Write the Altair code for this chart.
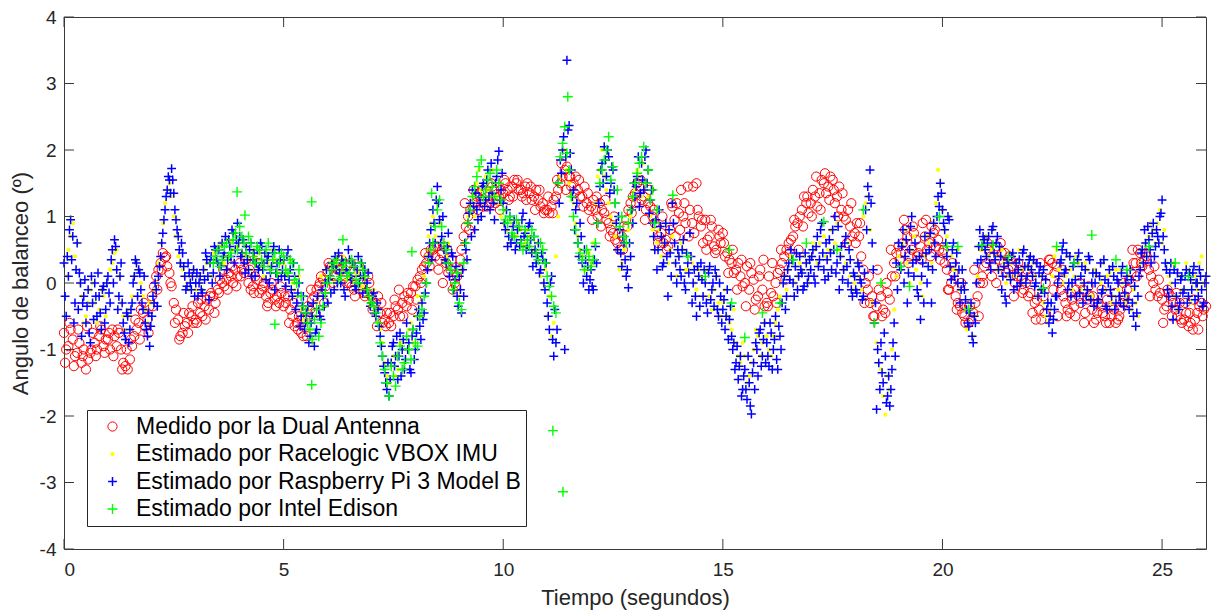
import numpy as np
import pandas as pd
import altair as alt

FONT = "Liberation Sans, Arial, Helvetica, sans-serif"
AX = "#3a3a3a"
TXT = "#262626"

SERIES = [
    "Medido por la Dual Antenna",
    "Estimado por Racelogic VBOX IMU",
    "Estimado por Raspberry Pi 3 Model B",
    "Estimado por Intel Edison",
]
COLORS = ["#FF0000", "#FFFF00", "#0000FF", "#00FF00"]
PLUS = "M-1,0L1,0M0,-1L0,1"
SHAPES = ["circle", "circle", PLUS, PLUS]
SIZES = [85, 6, 78, 100]
WIDTHS = [1.0, 1.8, 1.5, 1.4]

X_TICKS = [0, 5, 10, 15, 20, 25]
Y_TICKS = [-4, -3, -2, -1, 0, 1, 2, 3, 4]

# Dual Antenna, samples at t = 0.0, 0.1, ... 26.0
red_a = [
    -0.75, -0.95, -0.85, -1.05, -1.2, -1.3, -1.05, -0.9, -0.8, -0.95,
    -0.85, -0.7, -0.95, -1.0, -1.25, -1.15, -0.8, -0.6, -0.45, -0.55,
    -0.2, 0.1, 0.3, 0.38, 0.15, -0.3, -0.55, -0.75, -0.6, -0.5,
    -0.55, -0.45, -0.35, -0.4, -0.2, -0.1, 0.0, 0.05, 0.1, 0.2,
    0.3, 0.15, 0.0, -0.05, 0.05, -0.1, -0.2, -0.15, -0.25, -0.3,
    -0.35, -0.2, -0.5, -0.6, -0.75, -0.55, -0.4, -0.2, -0.05, 0.05,
    0.15, 0.25, 0.3, 0.2, 0.1, 0.0, -0.1, 0.05, 0.0, -0.15,
    -0.2, -0.3, -0.45, -0.55, -0.6, -0.5, -0.4, -0.3, -0.35, -0.15,
    -0.05, 0.1, 0.25, 0.4, 0.5, 0.55, 0.45, 0.3, 0.2, 0.0,
    0.2, 0.7, 1.0, 1.15, 1.3, 1.25, 1.35, 1.2, 1.4, 1.3,
    1.35, 1.4, 1.45, 1.5, 1.4, 1.45, 1.35, 1.3, 1.25, 1.2,
    1.1, 1.15, 1.3, 1.5, 1.7, 1.6, 1.5, 1.4, 1.3, 1.2,
    1.15, 1.1, 1.2, 1.05, 0.9, 0.75, 0.6, 0.7, 0.95, 1.2,
    1.35, 1.45, 1.3, 1.2, 1.0, 0.85, 0.75, 0.65, 0.8, 0.95,
    1.05, 1.0, 1.45, 0.9, 1.5, 0.85, 0.95, 0.7, 0.55, 0.8,
    0.75, 0.45, 0.3, 0.2, 0.1, 0.0, -0.1, 0.05, -0.2, -0.1,
    -0.3, -0.15, 0.0, 0.2, 0.4, 0.6, 0.7, 0.9, 1.1, 1.2,
    1.2, 1.3, 1.35, 1.5, 1.45, 1.55, 1.3, 1.1, 0.95, 0.85,
    0.75, 0.7, 0.2, -0.1, -0.2, -0.35, -0.2, -0.45, -0.25, 0.3,
    0.55, 0.6, 0.7, 0.5, 0.65, 0.55, 0.7, 0.6, 0.75, 0.65,
    0.45, 0.2, 0.0, -0.2, -0.35, -0.5, -0.6, -0.45, -0.2, 0.1,
    0.3, 0.4, 0.5, 0.35, 0.3, 0.2, 0.25, 0.1, 0.05, 0.0,
    -0.15, -0.3, -0.4, -0.2, 0.2, 0.3, 0.25, -0.1, -0.3, -0.45,
    -0.35, -0.2, -0.1, -0.25, -0.4, -0.55, -0.35, -0.5, -0.6, -0.4,
    -0.55, -0.3, -0.1, 0.15, 0.3, 0.45, 0.35, 0.2, 0.0, -0.2,
    -0.25, -0.35, -0.2, -0.4, -0.3, -0.55, -0.65, -0.7, -0.45, -0.3,
    -0.35,
]
# Dual Antenna, samples at t = 0.05, 0.15, ... 25.95
red_b = [
    -1.0, -0.7, -1.1, -0.9, -1.0, -1.15, -0.75, -1.0, -0.7, -0.85,
    -1.0, -0.8, -0.75, -1.2, -1.3, -0.95, -0.7, -0.4, -0.65, -0.35,
    -0.05, 0.2, 0.45, 0.25, -0.05, -0.4, -0.8, -0.65, -0.45, -0.6,
    -0.3, -0.5, -0.25, -0.15, -0.3, 0.05, -0.05, 0.15, 0.0, 0.1,
    0.2, 0.35, -0.1, 0.1, -0.15, 0.0, -0.3, -0.1, -0.2, -0.15,
    -0.3, -0.4, -0.65, -0.5, -0.8, -0.35, -0.25, -0.1, 0.1, -0.05,
    0.25, 0.1, 0.35, 0.05, 0.25, -0.05, 0.1, -0.1, -0.2, 0.0,
    -0.35, -0.2, -0.6, -0.45, -0.65, -0.35, -0.5, -0.2, -0.25, -0.05,
    0.05, 0.2, 0.3, 0.5, 0.4, 0.35, 0.55, 0.15, -0.1, 0.1,
    0.5, 0.85, 1.1, 1.2, 1.35, 1.15, 1.3, 1.45, 1.25, 1.4,
    1.5, 1.3, 1.55, 1.4, 1.35, 1.5, 1.25, 1.4, 1.15, 1.1,
    1.05, 1.25, 1.4, 1.6, 1.75, 1.45, 1.6, 1.3, 1.45, 1.1,
    1.25, 1.0, 1.1, 0.95, 0.8, 0.65, 0.5, 0.85, 1.1, 1.3,
    1.5, 1.25, 1.1, 1.15, 0.9, 0.7, 0.6, 0.55, 1.15, 1.2,
    1.4, 0.9, 1.1, 0.75, 1.0, 0.6, 0.65, 0.85, 0.5, 0.6,
    0.4, 0.35, 0.15, 0.3, -0.05, 0.25, 0.15, -0.25, 0.2, -0.35,
    0.1, -0.2, 0.15, 0.3, 0.5, 0.65, 0.85, 1.0, 1.3, 1.05,
    1.4, 1.15, 1.55, 1.35, 1.6, 1.2, 1.45, 1.0, 1.1, 0.7,
    0.9, 0.4, 0.0, -0.3, -0.5, -0.1, -0.4, -0.15, 0.1, 0.45,
    0.45, 0.8, 0.4, 0.75, 0.45, 0.9, 0.5, 0.85, 0.55, 0.35,
    0.3, -0.1, 0.15, -0.3, -0.45, -0.35, -0.55, -0.3, 0.0, 0.25,
    0.5, 0.25, 0.55, 0.45, 0.15, 0.35, 0.0, 0.2, -0.1, -0.2,
    -0.45, -0.25, -0.55, 0.0, 0.35, 0.15, 0.0, -0.2, -0.4, -0.25,
    -0.1, -0.3, -0.45, -0.2, -0.6, -0.3, -0.45, -0.25, -0.5, -0.6,
    -0.4, -0.2, 0.05, 0.3, 0.5, 0.25, 0.4, 0.1, -0.1, -0.15,
    -0.4, -0.15, -0.3, -0.5, -0.6, -0.45, -0.6, -0.55, -0.35, -0.4,
]
# Dual Antenna, samples at t = 0.025, 0.125, ... 25.925
red_c = [
    -1.2, -0.6, -1.25, -0.7, -1.1, -0.65, -1.0, -1.1, -0.65, -1.05,
    -0.75, -1.1, -0.7, -1.3, -1.0, -0.85, -0.55, -0.85, -0.3, -0.75,
    -0.35, -0.1, 0.2, 0.4, 0.0, -0.6, -0.85, -0.45, -0.75, -0.35,
    -0.6, -0.25, -0.55, -0.2, -0.45, -0.15, 0.2, -0.1, 0.25, -0.05,
    0.1, 0.35, 0.2, -0.15, 0.3, -0.05, -0.35, 0.0, -0.35, -0.05,
    -0.2, -0.6, -0.3, -0.7, -0.55, -0.8, -0.1, -0.45, 0.0, -0.3,
    0.3, 0.0, 0.2, 0.35, 0.0, 0.3, -0.2, 0.25, -0.15, 0.1,
    -0.4, -0.65, -0.3, -0.65, -0.45, -0.25, -0.1, -0.5, -0.15, -0.4,
    -0.25, 0.0, 0.45, 0.25, 0.55, 0.2, 0.0, 0.5, 0.35, -0.05,
    0.35, 1.2, 0.8, 1.4, 1.1, 1.4, 1.15, 1.5, 1.2, 1.1,
    1.55, 1.25, 1.3, 1.55, 1.3, 1.25, 1.45, 1.1, 1.4, 1.05,
    1.3, 1.05, 1.55, 1.8, 1.4, 1.6, 1.35, 1.55, 1.15, 1.35,
    0.95, 1.3, 0.85, 1.25, 0.7, 1.0, 0.75, 0.5, 0.85, 1.05,
    1.2, 1.55, 0.95, 1.4, 1.1, 0.6, 1.0, 0.5, 1.2, 0.7,
    0.8, 1.2, 0.7, 1.45, 1.1, 0.95, 0.5, 0.95, 0.45, 0.7,
    0.6, 0.15, 0.5, -0.1, 0.35, -0.35, 0.3, -0.4, 0.1, 0.35,
    -0.35, 0.3, -0.3, 0.5, 0.05, 0.45, 0.95, 0.5, 0.85, 1.3,
    1.0, 1.6, 1.1, 1.65, 1.25, 1.4, 1.0, 1.35, 0.6, 1.2,
    0.6, 0.9, -0.3, 0.1, -0.5, 0.2, -0.5, 0.0, 0.5, 0.1,
    0.35, 0.95, 0.3, 0.85, 0.4, 0.35, 0.95, 0.4, 0.8, 0.5,
    0.5, -0.1, 0.3, -0.4, 0.0, -0.6, -0.35, 0.2, -0.5, 0.0,
    0.6, 0.1, 0.0, 0.6, 0.45, 0.4, -0.2, 0.3, -0.15, 0.2,
    0.1, -0.55, 0.3, -0.45, 0.35, -0.1, -0.5, 0.2, -0.5, -0.15,
    -0.5, 0.0, -0.6, -0.05, -0.2, -0.45, -0.1, -0.6, -0.35, -0.15,
    -0.5, 0.0, -0.3, 0.5, 0.1, 0.3, 0.45, -0.2, 0.25, 0.05,
    -0.6, -0.1, -0.5, -0.15, -0.55, -0.3, -0.45, -0.25, -0.7, -0.5,
]
# Racelogic VBOX IMU, t = 0.0 ... 26.0 step 0.1
yellow_a = [
    0.3, 0.5, 0.9, 0.6, -0.2, -0.5, -0.1, -0.3, -0.4, -0.2,
    0.0, 0.3, 0.5, -0.3, -0.7, -0.5, 0.1, 0.2, -0.2, -0.6,
    -0.3, 0.0, 0.6, 1.2, 1.5, 1.0, 0.4, 0.2, 0.0, 0.1,
    -0.1, 0.0, 0.2, 0.3, 0.45, 0.5, 0.55, 0.4, 0.6, 0.75,
    0.6, 0.4, 0.35, 0.5, 0.3, 0.25, 0.4, 0.2, 0.35, 0.15,
    0.3, 0.1, 0.0, -0.2, -0.4, -0.6, -0.7, -0.5, -0.2, 0.0,
    0.1, 0.25, 0.3, 0.15, 0.2, 0.1, 0.0, 0.15, -0.05, -0.1,
    -0.25, -0.4, -0.7, -1.2, -1.5, -1.1, -1.3, -0.9, -1.0, -0.6,
    -0.5, -0.3, 0.1, 0.7, 1.0, 1.2, 0.6, 0.4, 0.2, -0.1,
    -0.2, 0.6, 1.0, 1.3, 1.5, 1.4, 1.6, 1.3, 1.5, 1.2,
    0.9, 0.8, 0.9, 0.7, 0.8, 0.6, 0.7, 0.5, 0.3, 0.0,
    -0.5, -0.8, 0.4, 1.6, 2.0, 1.5, 1.2, 0.7, 0.4, 0.2,
    0.3, 1.2, 1.7, 1.6, 1.2, 0.9, 0.5, 0.3, 0.6, 1.0,
    1.4, 1.6, 1.8, 1.3, 0.8, 0.6, 0.4, 0.9, 0.5, 0.3,
    0.4, 0.5, 0.2, 0.3, -0.1, 0.1, 0.0, -0.2, -0.1, -0.3,
    -0.3, -0.5, -0.7, -0.9, -1.2, -1.1, -1.4, -1.0, -0.8, -0.9,
    -0.8, -1.1, -0.6, -0.2, 0.1, 0.2, 0.3, 0.1, 0.2, 0.3,
    0.4, 0.5, 0.6, 0.7, 0.5, 0.8, 0.9, 0.4, 0.3, 0.1,
    0.0, 0.1, 1.0, 1.3, -0.3, -0.9, -1.3, -1.98, -1.6, -0.4,
    0.4, 0.6, 0.3, 0.5, 0.2, 0.0, 0.4, 0.6, 0.9, 1.7,
    1.1, 0.7, 0.4, 0.2, -0.1, -0.4, -0.6, -0.8, 0.1, 0.5,
    0.7, 0.5, 0.4, 0.2, 0.3, 0.1, 0.4, 0.3, 0.2, 0.25,
    0.2, 0.1, -0.1, -0.3, -0.6, 0.1, 0.5, 0.3, 0.1, 0.2,
    0.1, 0.3, 0.0, 0.2, -0.2, 0.1, 0.0, -0.1, 0.15, -0.2,
    -0.1, 0.0, -0.2, -0.4, -0.3, 0.3, 0.6, 0.7, 0.8, 0.9,
    0.6, 0.3, 0.0, -0.2, 0.1, -0.1, 0.2, 0.0, -0.1, 0.4,
    0.1,
]
# Racelogic VBOX IMU, t = 0.05 ... 25.95 step 0.1
yellow_b = [
    0.1, 0.7, 0.4, 0.0, -0.6, -0.3, 0.0, -0.6, -0.1, -0.5,
    0.2, 0.45, 0.1, -0.5, -0.4, -0.2, 0.3, 0.0, -0.4, -0.3,
    -0.1, 0.3, 0.9, 1.4, 1.3, 0.7, 0.3, 0.1, -0.1, 0.2,
    0.1, -0.1, 0.3, 0.1, 0.35, 0.6, 0.3, 0.65, 0.5, 0.55,
    0.45, 0.55, 0.2, 0.4, 0.45, 0.1, 0.3, 0.5, 0.1, 0.3,
    0.15, 0.35, -0.1, 0.1, -0.55, -0.4, -0.9, -0.3, 0.1, -0.2,
    0.3, 0.0, 0.2, 0.4, 0.05, 0.3, 0.15, -0.1, 0.1, -0.3,
    -0.1, -0.6, -0.9, -1.4, -1.2, -1.4, -0.9, -1.2, -0.7, -0.9,
    -0.2, -0.5, 0.4, 0.9, 0.7, 0.9, 0.3, 0.6, -0.1, 0.1,
    0.2, 0.9, 1.2, 1.0, 1.7, 1.2, 1.4, 1.7, 1.3, 1.0,
    1.1, 0.6, 0.7, 0.9, 0.55, 0.8, 0.45, 0.6, 0.1, 0.2,
    -0.2, -0.6, 1.0, 2.0, 1.7, 1.3, 0.9, 0.5, 0.2, 0.45,
    0.6, 1.6, 2.0, 1.4, 1.0, 0.7, 0.2, 0.5, 0.8, 1.3,
    1.7, 1.3, 1.5, 1.0, 0.5, 0.8, 0.6, 0.3, 0.7, 0.1,
    0.6, 0.2, 0.4, 0.0, 0.2, -0.2, 0.2, -0.4, 0.1, -0.5,
    -0.1, -0.6, -0.4, -1.1, -0.9, -1.5, -1.2, -0.7, -1.1, -0.6,
    -1.0, -0.8, -0.4, 0.0, -0.1, 0.4, 0.0, 0.3, 0.4, 0.0,
    0.6, 0.3, 0.9, 0.4, 0.8, 0.6, 0.5, 0.2, 0.6, -0.1,
    0.3, -0.1, 1.2, 0.8, -0.6, -1.2, -1.7, -1.4, -1.0, 0.1,
    0.2, 0.8, 0.0, 0.7, 0.4, -0.2, 0.7, 0.3, 1.2, 1.5,
    0.8, 1.0, 0.2, 0.5, 0.0, -0.7, -0.3, -0.5, 0.5, 0.7,
    0.4, 0.8, 0.2, 0.5, 0.0, 0.3, 0.1, 0.5, 0.0, 0.4,
    0.3, -0.2, 0.1, -0.5, -0.4, 0.4, 0.2, 0.0, 0.4, -0.1,
    0.4, -0.1, 0.3, -0.2, 0.2, -0.3, 0.3, 0.1, -0.3, 0.2,
    0.2, -0.3, 0.1, -0.1, -0.5, 0.5, 0.4, 0.9, 0.6, 1.1,
    0.8, 0.1, 0.3, -0.4, -0.1, 0.3, -0.3, 0.1, 0.3, 0.0,
]
# Raspberry Pi 3 Model B, t = 0.0 ... 26.0 step 0.05
blue_a = [
    0.3, -0.5, 0.1, 0.95, 0.7, -0.3, 0.6, 0.15, -0.8, -0.2,
    -0.6, -0.1, -0.9, -0.3, 0.0, -0.5, -0.2, -0.7, -0.05, -0.4,
    0.1, -0.3, 0.5, 0.65, 0.2, -0.2, 0.3, -0.6, -0.85, -0.5,
    -0.7, -0.3, 0.1, 0.3, 0.2, -0.1, -0.4, -0.6, -0.8, -0.95,
    -0.5, -0.3, -0.1, 0.1, 0.4, 0.75, 1.1, 1.4, 1.55, 1.72,
    1.35, 0.95, 0.7, 0.3, 0.45, 0.1, -0.05, 0.15, -0.1, 0.2,
    0.0, -0.2, 0.1, -0.15, 0.05, 0.35, -0.25, 0.4, 0.15, 0.5,
    0.3, 0.1, 0.6, 0.45, 0.2, 0.65, 0.4, 0.75, 0.5, 0.9,
    0.7, 0.45, 0.3, 0.55, 0.2, 0.6, 0.35, 0.1, 0.5, 0.25,
    0.55, 0.3, 0.05, 0.4, 0.15, 0.45, -0.1, 0.3, 0.5, 0.1,
    0.35, -0.05, 0.5, 0.2, -0.2, 0.1, -0.3, 0.0, -0.5, -0.2,
    -0.6, -0.35, -0.8, -0.5, -0.95, -0.7, -0.4, -0.55, -0.2, 0.0,
    -0.3, 0.1, 0.3, -0.1, 0.2, 0.45, 0.0, 0.3, -0.2, 0.15,
    0.35, 0.05, 0.25, -0.1, 0.4, 0.1, -0.15, 0.2, 0.0, -0.2,
    -0.3, -0.15, -0.5, -0.4, -0.8, -1.1, -1.35, -1.6, -1.7, -1.2,
    -0.9, -1.1, -1.45, -0.75, -1.0, -1.3, -0.6, -0.9, -1.35, -0.7,
    -1.0, -0.5, -0.65, -0.3, -0.45, 0.0, 0.4, 0.8, 1.1, 0.6,
    1.45, 0.95, 0.7, 0.5, 0.3, 0.75, 0.2, 0.4, 0.05, -0.2,
    0.1, -0.45, -0.2, 0.5, 0.9, 1.2, 1.4, 0.8, 1.1, 1.3,
    1.0, 1.5, 1.25, 1.7, 1.1, 1.35, 0.95, 1.6, 1.98, 1.4,
    1.2, 0.8, 0.55, 1.0, 0.7, 0.95, 0.6, 0.85, 0.65, 1.05,
    0.75, 0.55, 0.9, 0.45, 0.7, 0.3, 0.6, 0.2, 0.35, -0.1,
    -0.3, -0.7, 0.1, -1.1, -0.9, 1.5, 1.85, 2.0, -1.0, 3.35,
    2.37, 1.7, 1.4, 1.1, 0.6, 0.9, 0.3, 0.5, 0.1, -0.1,
    0.2, -0.1, 0.55, 0.9, 1.45, 1.8, 2.05, 1.6, 1.9, 1.5,
    1.7, 1.2, 0.5, 0.8, 0.25, 0.6, 0.1, -0.07, 0.4, 0.9,
    1.3, 1.6, 1.15, 1.8, 1.4, 2.0, 1.7, 1.25, 0.9, 0.5,
    0.2, 1.1, 0.7, 0.3, 0.9, -0.2, 0.45, 1.2, 0.6, 0.0,
    0.4, 0.1, 0.65, -0.1, 0.3, 0.75, -0.3, 0.2, -0.5, 0.1,
    0.3, -0.2, 0.0, -0.45, 0.25, -0.1, -0.35, 0.1, -0.5, -0.2,
    -0.4, -0.7, -0.1, -0.55, -0.8, -0.9, -1.2, -1.45, -1.1, -1.6,
    -1.3, -1.75, -1.5, -1.97, -1.2, -0.9, -1.4, -0.7, -1.1, -0.6,
    -0.9, -1.25, -0.75, -1.0, -0.5, -1.3, -0.8, -0.3, 0.1, -0.2,
    0.3, 0.5, 0.0, 0.25, -0.1, 0.4, 0.15, -0.05, 0.3, 0.1,
    0.2, 0.5, 0.0, 0.7, 0.35, 0.9, 0.2, 0.6, 0.1, 0.45,
    0.8, 1.0, 0.3, -0.1, 0.55, 0.2, 0.7, 0.0, 0.35, -0.2,
    0.1, -0.15, 0.25, 0.0, -0.2, 1.1, 1.45, 1.7, 0.6, -0.6,
    -1.9, -1.2, -0.9, -1.5, -1.1, -1.7, -1.85, -1.3, -0.6, 0.3,
    0.6, 0.2, 0.8, 0.4, -0.3, 0.5, 1.0, 0.1, 0.35, -0.2,
    -0.55, 0.3, 0.7, 0.0, 0.5, -0.3, 0.9, 0.4, 1.3, 1.5,
    1.1, 0.8, 0.4, 0.95, 0.05, 0.6, 0.3, 0.0, -0.3, 0.2,
    -0.1, -0.4, -0.65, -0.3, -0.9, -0.6, 0.3, 0.8, 0.55, 0.65,
    0.4, 0.7, 0.2, 0.85, 0.35, 0.7, 0.55, -0.1, 0.25, -0.3,
    0.3, 0.05, 0.45, 0.15, -0.05, 0.35, 0.1, 0.5, 0.0, 0.25,
    0.4, 0.1, -0.05, 0.3, 0.15, -0.1, 0.2, 0.05, -0.3, -0.5,
    -0.75, -0.4, -0.2, 0.1, 0.35, 0.6, 0.2, -0.1, 0.4, 0.0,
    0.3, -0.2, 0.45, 0.1, -0.3, 0.2, -0.1, 0.35, 0.0, -0.35,
    0.15, -0.25, 0.3, -0.1, 0.05, -0.4, 0.2, -0.2, 0.1, -0.3,
    0.0, -0.3, 0.25, -0.15, 0.1, -0.4, 0.05, -0.5, -0.65, -0.2,
    0.2, 0.5, 0.8, 0.4, 0.65, 0.3, 0.9, 0.55, 0.7, 1.0,
    1.25, 0.5, 0.2, -0.2, 0.3, -0.55, 0.0, 0.15, -0.3, 0.1,
    -0.1, 0.2, -0.2, 0.05, 0.15, -0.25, 0.0, 0.2, -0.1, -0.3,
    0.1,
]
# Raspberry Pi 3 Model B, t = 0.025 ... 25.975 step 0.05
blue_b = [
    -0.2, 0.4, 0.8, 0.35, -0.6, 0.2, -0.4, 0.0, -0.3, 0.05,
    -0.35, -0.75, 0.1, -0.55, -0.2, 0.15, -0.45, -0.1, -0.6, 0.0,
    -0.15, 0.35, 0.0, 0.55, -0.4, 0.1, -0.3, -0.75, -0.45, -0.9,
    -0.4, 0.0, 0.35, -0.2, 0.15, -0.3, 0.1, -0.7, -0.45, -0.65,
    -0.2, 0.0, -0.35, 0.25, 0.6, 0.95, 1.3, 1.6, 1.35, 1.55,
    1.1, 0.8, 0.5, 0.6, 0.25, -0.1, 0.3, 0.0, 0.1, -0.2,
    0.15, 0.0, -0.1, 0.2, 0.45, 0.1, 0.3, 0.0, 0.55, 0.35,
    0.5, 0.25, 0.4, 0.7, 0.35, 0.55, 0.8, 0.3, 0.65, 0.6,
    0.4, 0.65, 0.15, 0.35, 0.5, 0.1, 0.45, 0.3, 0.2, 0.6,
    0.2, 0.45, 0.35, 0.0, 0.25, 0.55, 0.15, 0.05, 0.35, 0.2,
    0.1, 0.4, 0.05, -0.1, 0.3, -0.4, -0.15, -0.65, -0.35, -0.7,
    -0.45, -0.9, -0.6, -0.3, -0.75, -0.2, -0.5, -0.1, -0.35, 0.2,
    0.05, -0.15, 0.25, 0.4, 0.0, 0.15, 0.35, -0.1, 0.2, 0.5,
    0.1, 0.3, -0.05, 0.2, 0.0, 0.3, 0.1, -0.1, 0.15, -0.35,
    -0.2, -0.45, -0.3, -0.65, -0.95, -1.25, -1.5, -1.2, -1.45, -0.95,
    -1.25, -0.8, -1.1, -1.4, -0.85, -1.15, -1.0, -1.3, -0.8, -1.15,
    -0.75, -0.4, -0.85, -0.55, -0.15, 0.2, 0.6, 0.35, 0.9, 1.25,
    1.2, 0.6, 1.0, 0.35, 0.55, 0.1, 0.45, -0.1, 0.25, -0.35,
    -0.1, 0.2, 0.6, 0.35, 1.05, 0.7, 1.15, 1.35, 0.95, 1.2,
    1.45, 1.15, 1.55, 1.3, 1.8, 1.2, 1.5, 1.85, 1.25, 1.65,
    0.9, 1.1, 0.7, 0.6, 0.85, 0.5, 0.8, 0.55, 0.95, 0.7,
    0.5, 0.85, 0.65, 0.25, 0.5, 0.4, 0.15, 0.45, 0.0, 0.3,
    -0.5, 0.0, -0.85, -0.4, -0.7, 1.2, 1.65, 2.2, 1.9, 2.3,
    1.95, 1.3, 0.8, 1.2, 0.4, 0.7, 0.0, 0.35, 0.25, 0.05,
    -0.05, 0.35, 0.3, 1.2, 1.7, 1.5, 1.85, 2.0, 1.35, 1.75,
    1.4, 0.9, 1.0, 0.45, 0.7, 0.35, 0.2, 0.6, 1.1, 1.5,
    1.45, 1.9, 1.35, 1.55, 1.9, 1.5, 1.05, 1.4, 0.7, 0.95,
    0.5, 0.85, 0.25, 0.6, 0.4, 0.8, 0.1, 0.9, 0.3, 0.5,
    0.2, 0.5, 0.0, 0.45, 0.15, 0.4, 0.0, -0.2, 0.25, -0.35,
    0.05, 0.2, -0.3, 0.15, -0.25, 0.0, 0.2, -0.4, 0.0, -0.6,
    -0.25, -0.5, -0.85, -0.35, -1.0, -1.3, -0.95, -1.25, -1.7, -1.4,
    -1.6, -1.1, -1.85, -1.35, -1.6, -1.0, -0.75, -1.25, -0.85, -1.2,
    -1.1, -0.6, -1.3, -0.85, -1.15, -0.65, -1.0, 0.0, -0.4, 0.2,
    0.05, 0.35, -0.2, 0.45, 0.1, 0.2, -0.1, 0.45, 0.0, 0.35,
    0.4, 0.1, 0.55, 0.25, 0.8, 0.45, 0.05, 0.35, 0.65, 0.2,
    0.5, 0.15, 0.85, 0.4, 0.05, 0.6, 0.25, 0.5, -0.1, 0.15,
    -0.1, 0.3, 0.05, -0.25, 0.15, 0.8, 1.3, 1.2, 0.2, -0.3,
    -1.0, -1.6, -1.35, -0.75, -1.8, -1.4, -1.6, -0.9, -1.1, -0.1,
    0.25, 0.55, 0.0, 0.65, 0.15, 0.85, 0.3, 0.6, -0.1, 0.4,
    0.1, -0.3, 0.45, 0.25, 0.75, 0.2, 0.6, 1.0, 1.15, 1.35,
    0.9, 0.6, 1.0, 0.25, 0.5, 0.1, 0.45, 0.2, -0.1, 0.0,
    -0.25, -0.6, -0.45, -0.8, -0.5, 0.0, 0.55, 0.35, 0.7, 0.5,
    0.6, 0.3, 0.8, 0.45, 0.6, 0.2, 0.4, 0.1, -0.2, 0.35,
    0.15, 0.4, -0.1, 0.3, 0.2, 0.0, 0.45, 0.25, 0.1, 0.35,
    0.2, 0.35, 0.0, -0.2, 0.25, 0.1, -0.15, -0.4, -0.6, -0.3,
    -0.55, -0.2, 0.0, 0.3, 0.5, 0.15, 0.45, 0.0, -0.2, 0.25,
    0.05, 0.35, -0.15, 0.25, 0.0, -0.2, 0.4, -0.25, 0.15, 0.0,
    -0.3, 0.1, -0.15, 0.35, -0.35, 0.0, -0.1, 0.25, -0.4, 0.05,
    -0.2, 0.15, -0.35, 0.0, -0.25, 0.2, -0.3, -0.05, -0.45, 0.1,
    0.45, 0.3, 0.6, 0.85, 0.5, 0.75, 0.4, 0.8, 0.6, 1.05,
    0.7, 0.3, -0.1, 0.15, -0.35, 0.2, -0.2, -0.4, 0.05, -0.15,
    0.1, -0.3, 0.15, -0.1, 0.25, 0.0, -0.2, 0.1, -0.35, 0.0,
]
# Intel Edison, dense part t = 3.4 ... 13.5 step 0.1
green_a = [
    0.3, 0.5, 0.35, 0.6, 0.45, 0.75, 0.85, 0.6, 0.7, 0.4,
    0.55, 0.35, 0.5, 0.2, 0.45, 0.3, 0.4, 0.15, 0.3, 0.0,
    -0.2, -0.45, -0.7, -0.55, -0.8, -0.35, 0.0, 0.2, 0.35, 0.1,
    0.3, 0.15, 0.25, 0.0, 0.2, -0.1, -0.3, -0.45, -0.9, -1.3,
    -1.7, -1.4, -1.1, -1.3, -0.8, -1.15, -0.9, -0.5, -0.2, 0.3,
    0.6, 1.1, 0.85, 0.5, 0.2, 0.0, -0.3, 0.3, 0.9, 1.3,
    1.6, 1.85, 1.4, 1.65, 1.3, 1.5, 1.1, 0.9, 0.75, 0.95,
    0.6, 0.8, 0.55, 0.7, 0.35, 0.5, 0.1, -0.2, -0.45, 1.9,
    2.35, 1.7, 1.0, 0.6, 0.35, 0.5, 0.25, 0.6, 1.5, 1.85,
    2.2, 1.75, 1.4, 1.0, 0.6, 1.1, 1.5, 1.8, 2.05, 1.7,
    1.4, 1.1,
]
# Intel Edison, dense part t = 3.45 ... 13.45 step 0.1
green_b = [
    0.4, 0.25, 0.55, 0.4, 0.65, 0.5, 0.7, 0.45, 0.6, 0.3,
    0.5, 0.25, 0.6, 0.35, 0.15, 0.45, 0.2, 0.35, 0.05, 0.2,
    -0.35, -0.6, -0.85, -0.4, -0.6, -0.15, 0.1, 0.3, 0.05, 0.25,
    0.1, 0.35, 0.05, 0.3, 0.1, -0.2, -0.35, -0.6, -1.1, -1.5,
    -1.25, -1.55, -0.95, -1.2, -1.0, -0.7, -0.95, -0.4, 0.0, 0.5,
    0.85, 1.25, 0.6, 0.3, -0.1, 0.15, -0.4, 0.6, 1.1, 1.45,
    1.75, 1.3, 1.55, 1.45, 1.7, 1.25, 0.95, 1.0, 0.7, 0.85,
    0.5, 0.65, 0.8, 0.45, 0.6, 0.3, -0.05, -0.35, 1.5, 2.1,
    1.95, 1.3, 0.8, 0.45, 0.2, 0.4, 0.35, 0.9, 1.7, 2.0,
    1.55, 1.2, 0.85, 0.7, 0.9, 1.3, 1.65, 1.9, 1.5, 1.25,
    0.9,
]
# Intel Edison, isolated samples
green_extra_t = [
    3.94, 4.12, 4.8, 5.64, 5.64, 6.35, 7.92, 8.37, 11.13, 11.36, 11.47,
    13.86, 14.2, 14.6, 15.15, 15.2, 15.5, 15.9, 16.3, 16.6, 16.9, 17.3,
    17.6, 18.2, 18.45, 18.6, 19.05, 19.25, 19.93, 20.1, 20.35, 20.6,
    20.9, 21.15, 21.5, 22.3, 22.6, 23.0, 23.4, 23.95, 24.2, 24.7, 25.3,
    25.6,
]
green_extra_v = [
    1.37, 1.02, -0.62, 1.22, -1.53, 0.65, 0.47, 1.35, -2.22, -3.14, 2.8,
    1.32, 0.4, 0.1, 0.5, -0.3, -0.82, -0.45, -0.3, 0.35, 0.6, 0.92,
    0.5, 1.1, -0.6, 0.0, 0.25, -0.05, 1.0, 0.55, 0.55, -0.4,
    0.57, 0.57, 0.4, -0.08, 0.55, 0.3, 0.72, 0.35, 0.2, 0.55, 0.3,
    0.1,
]


def grid(n, step, start=0.0):
    return np.round(np.arange(n) * step + start, 3)


frames = [
    pd.DataFrame({"t": grid(len(red_a), 0.1), "v": red_a, "serie": SERIES[0]}),
    pd.DataFrame({"t": grid(len(red_b), 0.1, 0.05), "v": red_b, "serie": SERIES[0]}),
    pd.DataFrame({"t": grid(len(red_c), 0.1, 0.025), "v": red_c, "serie": SERIES[0]}),
    pd.DataFrame({"t": grid(len(yellow_a), 0.1), "v": yellow_a, "serie": SERIES[1]}),
    pd.DataFrame({"t": grid(len(yellow_b), 0.1, 0.05), "v": yellow_b, "serie": SERIES[1]}),
    pd.DataFrame({"t": grid(len(blue_a), 0.05), "v": blue_a, "serie": SERIES[2]}),
    pd.DataFrame({"t": grid(len(blue_b), 0.05, 0.025), "v": blue_b, "serie": SERIES[2]}),
    pd.DataFrame({"t": grid(len(green_a), 0.1, 3.4), "v": green_a, "serie": SERIES[3]}),
    pd.DataFrame({"t": grid(len(green_b), 0.1, 3.45), "v": green_b, "serie": SERIES[3]}),
    pd.DataFrame({"t": green_extra_t, "v": green_extra_v, "serie": SERIES[3]}),
]
df = pd.concat(frames, ignore_index=True)

W, H = 1142, 532
XSCALE = alt.Scale(domain=[0, 26], nice=False, zero=False)
YSCALE = alt.Scale(domain=[-4, 4], nice=False, zero=False)

X_AXIS = alt.Axis(
    values=X_TICKS, ticks=False, tickSize=0, domain=False, grid=False,
    labelFont=FONT, labelFontSize=19, labelColor=TXT, labelPadding=11,
    labelExpr="'' + datum.value",
    title="Tiempo (segundos)", titleFont=FONT, titleFontSize=22,
    titleFontWeight="normal", titleColor=TXT, titlePadding=8,
)
Y_AXIS = alt.Axis(
    values=Y_TICKS, ticks=False, tickSize=0, domain=False, grid=False,
    labelFont=FONT, labelFontSize=19, labelColor=TXT, labelPadding=8,
    labelExpr="'' + datum.value",
    title="Angulo de balanceo (º)", titleFont=FONT, titleFontSize=22,
    titleFontWeight="normal", titleColor=TXT, titlePadding=7,
)

LEGEND = alt.Legend(
    title=None, orient="none", legendX=23, legendY=393, padding=5,
    strokeColor=TXT, fillColor="white", labelFont=FONT, labelFontSize=23,
    labelColor="#000000", rowPadding=3.5, symbolOffset=9, labelOffset=12,
    labelLimit=600,
)

points = alt.Chart(df).mark_point(filled=False, opacity=1).encode(
    x=alt.X("t:Q", scale=XSCALE, axis=X_AXIS),
    y=alt.Y("v:Q", scale=YSCALE, axis=Y_AXIS),
    color=alt.Color("serie:N", scale=alt.Scale(domain=SERIES, range=COLORS), legend=LEGEND),
    shape=alt.Shape("serie:N", scale=alt.Scale(domain=SERIES, range=SHAPES), legend=LEGEND),
    size=alt.Size("serie:N", scale=alt.Scale(type="ordinal", domain=SERIES, range=SIZES), legend=LEGEND),
    strokeWidth=alt.StrokeWidth("serie:N", scale=alt.Scale(type="ordinal", domain=SERIES, range=WIDTHS), legend=LEGEND),
)

xt = pd.DataFrame({"t": X_TICKS})
yt = pd.DataFrame({"v": Y_TICKS})

tick_bottom = alt.Chart(xt).mark_rule(color=AX, strokeWidth=1).encode(
    x=alt.X("t:Q", scale=XSCALE, axis=X_AXIS), y=alt.value(H), y2=alt.value(H - 10))
tick_top = alt.Chart(xt).mark_rule(color=AX, strokeWidth=1).encode(
    x=alt.X("t:Q", scale=XSCALE, axis=X_AXIS), y=alt.value(0), y2=alt.value(10))
tick_left = alt.Chart(yt).mark_rule(color=AX, strokeWidth=1).encode(
    y=alt.Y("v:Q", scale=YSCALE, axis=Y_AXIS), x=alt.value(0), x2=alt.value(10))
tick_right = alt.Chart(yt).mark_rule(color=AX, strokeWidth=1).encode(
    y=alt.Y("v:Q", scale=YSCALE, axis=Y_AXIS), x=alt.value(W), x2=alt.value(W - 10))

chart = alt.layer(points, tick_bottom, tick_top, tick_left, tick_right).properties(
    width=W, height=H,
    padding={"left": 64, "top": 17, "right": 7, "bottom": 63},
    autosize=alt.AutoSizeParams(type="none"),
    background="white",
).configure_view(stroke=AX, strokeWidth=1)

chart.save("out.html", embed_options={"renderer": "svg", "actions": False})
